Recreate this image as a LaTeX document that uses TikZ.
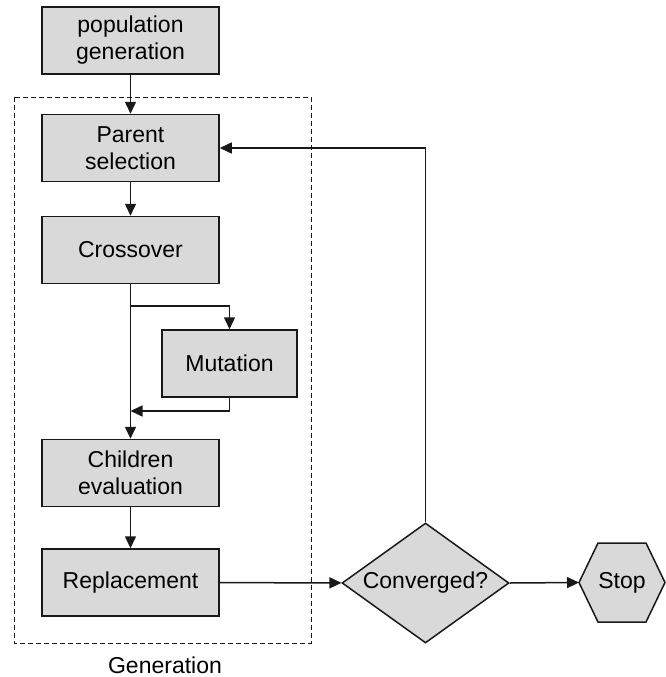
\documentclass[tikz,border=0pt]{standalone}
\usepackage{fontspec}
\setmainfont{Liberation Sans}
\usetikzlibrary{arrows.meta,shapes.geometric}
\definecolor{boxfill}{RGB}{217,217,217}
\definecolor{edge}{RGB}{25,25,25}
\begin{document}
\begin{tikzpicture}[x=1pt,y=-1pt,
  every node/.style={font=\fontsize{23}{27}\selectfont},
  stepbox/.style={draw=edge,fill=boxfill,line width=1.5pt,align=center,
    minimum width=177pt,minimum height=67pt,inner sep=0pt},
  flow/.style={draw=edge,line width=1.5pt,-{Triangle[length=12pt,width=11pt]}},
  groupframe/.style={draw=edge,line width=1pt,dash pattern=on 5pt off 3pt}]
  \useasboundingbox (0,0) rectangle (665,677);

  % process boxes
  \node[stepbox] (pop) at (130.5,40.5) {population\\generation};
  \node[stepbox] (parent) at (130.5,148) {Parent\\selection};
  \node[stepbox] (cross) at (130.5,250) {Crossover};
  \node[stepbox,minimum width=135pt] (mut) at (229.5,363.5) {Mutation};
  \node[stepbox] (child) at (130.5,473) {Children\\evaluation};
  \node[stepbox] (repl) at (130.5,582.5) {Replacement};

  % generation frame
  \draw[groupframe] (14,97) rectangle (311,643);
  \node (gen) at (165,665) {Generation};

  % decision and end
  \node[draw=edge,fill=boxfill,line width=1.5pt,diamond,aspect=1.4,inner sep=0pt,
    minimum width=167pt,minimum height=120pt] (conv) at (425.5,583) {Converged?};
  \draw[draw=edge,fill=boxfill,line width=1.5pt]
    (579,582.5) -- (598,543) -- (646,543) -- (665,582.5) -- (646,622) -- (598,622) -- cycle;
  \coordinate (stopin) at (579,582.5);
  \node (stop) at (622,582.5) {Stop};

  % connectors
  \draw[flow] (pop) -- (parent);
  \draw[flow] (parent) -- (cross);
  \draw[flow] (cross) -- (child);
  \coordinate (split) at (130.5,306);
  \coordinate (merge) at (130.5,411);
  \draw[flow] (split) -| (mut);
  \draw[flow] (mut.south) |- (merge);
  \draw[flow] (child) -- (repl);
  \draw[flow] (repl) -- (conv);
  \draw[flow] (conv.north) |- (parent.east);
  \draw[flow] (conv.east) -- (stopin);
\end{tikzpicture}
\end{document}
